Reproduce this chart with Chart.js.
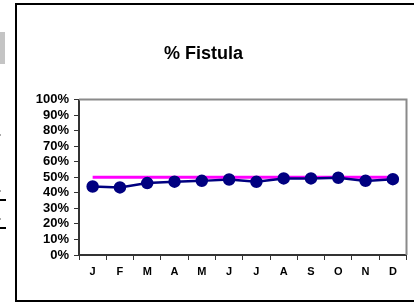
<!DOCTYPE html>
<html>
<head>
<meta charset="utf-8">
<script src="https://cdn.jsdelivr.net/npm/chart.js@4"></script>
<style>
  html, body { margin: 0; padding: 0; background: #fff; }
  #wrap { position: relative; width: 414px; height: 304px; }
</style>
</head>
<body>
<div id="wrap"><canvas id="fistulaChart" width="414" height="304"></canvas></div>
<script>
"use strict";

// months, monthly fistula rate (%), target (%)
const months  = ['J', 'F', 'M', 'A', 'M', 'J', 'J', 'A', 'S', 'O', 'N', 'D'];
const fistula = [44.1, 43.5, 46.3, 47.2, 47.7, 48.6, 47.1, 49.3, 49.3, 49.7, 47.7, 48.8];
const target  = [50, 50, 50, 50, 50, 50, 50, 50, 50, 50, 50, 50];
const yTicks  = [0, 10, 20, 30, 40, 50, 60, 70, 80, 90, 100];

const axisColor = '#333';
const fontFam = 'Arial, "Liberation Sans", sans-serif';

// frame around the sheet, plot-area border, and bits of the neighbouring chart
const framePlugin = {
  id: 'frame',
  beforeDraw(chart) {
    const ctx = chart.ctx;
    ctx.save();
    ctx.fillStyle = '#c4c4c4';
    ctx.fillRect(0, 32, 5, 32);
    ctx.fillStyle = '#000';
    ctx.fillRect(0, 199, 6, 2);
    ctx.fillRect(0, 227, 6, 2);
    ctx.fillStyle = '#aaa';
    [134, 190, 218].forEach(y => ctx.fillRect(0, y, 1, 2));
    ctx.strokeStyle = '#000';
    ctx.lineWidth = 2;
    ctx.strokeRect(16, 4, 420, 297);
    ctx.restore();
  },
  beforeDatasetsDraw(chart) {
    const { ctx, chartArea: a } = chart;
    ctx.save();
    ctx.strokeStyle = '#8a8a8a';
    ctx.lineWidth = 2;
    ctx.beginPath();
    ctx.moveTo(a.left, a.top);
    ctx.lineTo(a.right, a.top);
    ctx.lineTo(a.right, a.bottom);
    ctx.stroke();
    ctx.restore();
  }
};

new Chart(document.getElementById('fistulaChart'), {
  type: 'line',
  data: {
    labels: months,
    datasets: [
      {
        label: '% Fistula',
        data: fistula,
        borderColor: '#000080',
        backgroundColor: '#000080',
        borderWidth: 2.5,
        pointRadius: 5,
        pointHoverRadius: 5,
        tension: 0
      },
      {
        label: 'Target',
        data: target,
        borderColor: '#ff00ff',
        borderWidth: 3,
        pointRadius: 0,
        tension: 0
      }
    ]
  },
  options: {
    responsive: false,
    devicePixelRatio: 1,
    animation: false,
    layout: { padding: { left: 0, top: 43, right: 7, bottom: 19 } },
    plugins: {
      legend: { display: false },
      tooltip: { enabled: false },
      title: {
        display: true,
        text: '% Fistula',
        color: '#000',
        font: { family: fontFam, size: 18, weight: 'bold', lineHeight: 1.2 },
        padding: { top: 0, bottom: 35 }
      }
    },
    scales: {
      x: {
        offset: true,
        grid: { offset: true, drawOnChartArea: false, drawTicks: true, tickLength: 5, color: axisColor },
        border: { color: axisColor, width: 2 },
        ticks: { color: '#000', padding: 5, maxRotation: 0, autoSkip: false, font: { family: fontFam, size: 11, weight: 'bold' } },
        afterFit(scale) { scale.height = 30; }
      },
      y: {
        min: 0,
        max: 100,
        afterBuildTicks(scale) { scale.ticks = yTicks.map(v => ({ value: v })); },
        grid: { drawOnChartArea: false, drawTicks: true, tickLength: 5, color: axisColor },
        border: { color: axisColor, width: 2 },
        ticks: {
          color: '#000',
          padding: 5,
          autoSkip: false,
          font: { family: fontFam, size: 13, weight: 'bold' },
          callback: v => v + '%'
        },
        afterFit(scale) { scale.width = 79; }
      }
    }
  },
  plugins: [framePlugin]
});
</script>
</body>
</html>
